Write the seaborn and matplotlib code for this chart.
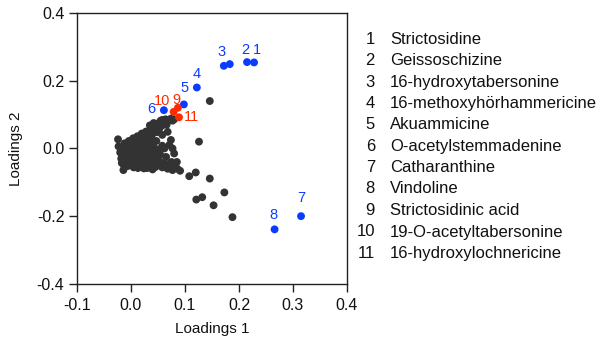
import matplotlib
matplotlib.use("Agg")
import matplotlib.pyplot as plt
import seaborn as sns
import pandas as pd

# Unlabelled metabolite loadings (PC1, PC2)
other_x = [
    -0.024, -0.023, -0.020, -0.018, -0.017, -0.014,
    -0.012, -0.011, -0.010, -0.008, -0.006,
    -0.004, -0.002, -0.001, 0.000, 0.002,
    0.004, 0.006, 0.007, 0.008, 0.009, 0.010,
    0.012, 0.014, 0.015, 0.016, 0.017, 0.018,
    0.020, 0.022, 0.023, 0.024, 0.025, 0.024, 0.026,
    0.028, 0.030, 0.031, 0.032, 0.033, 0.034, 0.035,
    0.037, 0.039, 0.040, 0.041, 0.042, 0.043, 0.044, 0.045,
    0.046, 0.048, 0.050, 0.053, 0.055, 0.058, 0.058, 0.061, 0.064,
    0.066, 0.068, 0.071, 0.074, 0.077, 0.080, 0.042, 0.035,
    0.052, 0.054, 0.058, 0.062, 0.068, 0.074, 0.071, 0.077, 0.080, 0.065, 0.058,
    0.048, 0.050, 0.055, 0.058, 0.061, 0.064, 0.068, 0.072, 0.075, 0.077,
    0.082, 0.085, 0.091, 0.086, 0.046, 0.030, 0.040,
    -0.015, -0.005, 0.003, 0.011, 0.019, 0.027, 0.036, 0.013, 0.021, 0.029,
    0.005, -0.013, 0.038, 0.047, 0.051,
    0.146, 0.126, 0.108, 0.120, 0.146, 0.173, 0.121, 0.132, 0.153, 0.188,
]
other_y = [
    0.027, 0.006, -0.012, -0.030, -0.043, -0.064,
    0.015, -0.002, -0.020, -0.038, -0.052,
    0.022, 0.008, -0.010, -0.028, -0.045,
    0.030, 0.014, -0.002, -0.018, -0.034, -0.050,
    0.036, 0.020, 0.004, -0.012, -0.028, -0.042,
    0.044, 0.028, 0.010, -0.006, -0.022, -0.059, -0.038,
    0.050, 0.034, 0.018, 0.002, -0.015, -0.030, -0.048,
    0.058, 0.040, 0.024, 0.008, -0.008, -0.024, -0.040, -0.055,
    0.066, 0.048, 0.074, 0.060, 0.082, 0.068, 0.084, 0.076, 0.086,
    0.070, 0.080, 0.084, 0.088, 0.082, 0.086, 0.075, 0.068,
    -0.002, -0.018, 0.008, 0.000, 0.049, 0.025, 0.010, 0.000, -0.015, -0.025, 0.040,
    -0.035, -0.050, -0.040, -0.056, -0.054, -0.045, -0.060, -0.050, -0.040, -0.064,
    -0.056, -0.040, -0.066, -0.060, -0.044, -0.058, -0.062,
    0.004, -0.026, 0.018, -0.008, 0.002, -0.048, -0.006, -0.058, 0.036, 0.010,
    -0.056, -0.050, 0.014, 0.022, 0.056,
    0.140, 0.020, -0.082, -0.071, -0.089, -0.130, -0.151, -0.144, -0.168, -0.203,
]

# Named alkaloids
names = [
    "Strictosidine", "Geissoschizine", "16-hydroxytabersonine",
    "16-methoxyhörhammericine", "Akuammicine", "O-acetylstemmadenine",
    "Catharanthine", "Vindoline", "Strictosidinic acid",
    "19-O-acetyltabersonine", "16-hydroxylochnericine",
]
named_x = [0.228, 0.215, 0.172, 0.122, 0.098, 0.061, 0.315, 0.266, 0.087, 0.079, 0.089]
named_y = [0.254, 0.255, 0.244, 0.180, 0.130, 0.113, -0.200, -0.239, 0.120, 0.108, 0.092]
named_group = ["blue"] * 8 + ["red"] * 3

# Second point sitting next to compound 3
extra_x = [0.183]
extra_y = [0.249]

BLUE = "#0a3cff"
RED = "#ff2a00"
GREY = "#333333"

sns.set_theme(style="ticks")
plt.rcParams["font.family"] = ["Liberation Sans", "DejaVu Sans"]

df = pd.concat([
    pd.DataFrame({"x": other_x, "y": other_y, "g": "other"}),
    pd.DataFrame({"x": extra_x, "y": extra_y, "g": "blue"}),
    pd.DataFrame({"x": named_x, "y": named_y, "g": named_group}),
], ignore_index=True)

fig = plt.figure(figsize=(6.08, 3.42), dpi=100)
ax = fig.add_axes([0.1266, 0.170, 0.444, 0.792])

sns.scatterplot(data=df, x="x", y="y", hue="g",
                palette={"other": GREY, "blue": BLUE, "red": RED},
                s=32, linewidth=0, legend=False, ax=ax, zorder=3)

# label offsets in points
offsets = [(2, 9), (-1, 9), (-2, 10), (0, 10), (0.5, 11.5), (-9, 1),
           (0, 13), (-1, 10), (-1.2, 5.5), (-8.5, 8), (9, 0)]
for i, (x, y, g, off) in enumerate(zip(named_x, named_y, named_group, offsets)):
    ax.annotate(str(i + 1), (x, y), xytext=off, textcoords="offset points",
                ha="center", va="center", fontsize=10.5,
                color=BLUE if g == "blue" else RED, zorder=4)

ax.set_xlim(-0.1, 0.4)
ax.set_ylim(-0.4, 0.4)
ax.set_xticks([-0.1, 0.0, 0.1, 0.2, 0.3, 0.4])
ax.set_yticks([-0.4, -0.2, 0.0, 0.2, 0.4])
ax.set_xticklabels(["-0.1", "0.0", "0.1", "0.2", "0.3", "0.4"])
ax.set_yticklabels(["-0.4", "-0.2", "0.0", "0.2", "0.4"])
ax.tick_params(direction="out", length=6, width=1, color="#222222",
               labelsize=11.5, labelcolor="#111111")
ax.tick_params(axis="x", pad=4.5)
ax.tick_params(axis="y", pad=3)
for sp in ax.spines.values():
    sp.set_linewidth(1)
    sp.set_color("#222222")
ax.set_xlabel("Loadings 1", fontsize=11, color="#111111", labelpad=6)
ax.set_ylabel("Loadings 2", fontsize=11, color="#111111", labelpad=10)

# Key of numbered compounds
row_y = [40, 60.7, 82.3, 103.3, 125, 146.7, 167.7, 188.7, 210.7, 232, 253.7]
for i, (name, py) in enumerate(zip(names, row_y)):
    fy = 1 - py / 342
    fig.text(375 / 608, fy, str(i + 1), ha="right", va="center",
             fontsize=12, color="#111111")
    fig.text(390 / 608, fy, name, ha="left", va="center",
             fontsize=12, color="#111111")

fig.savefig("out.png", dpi=100)
